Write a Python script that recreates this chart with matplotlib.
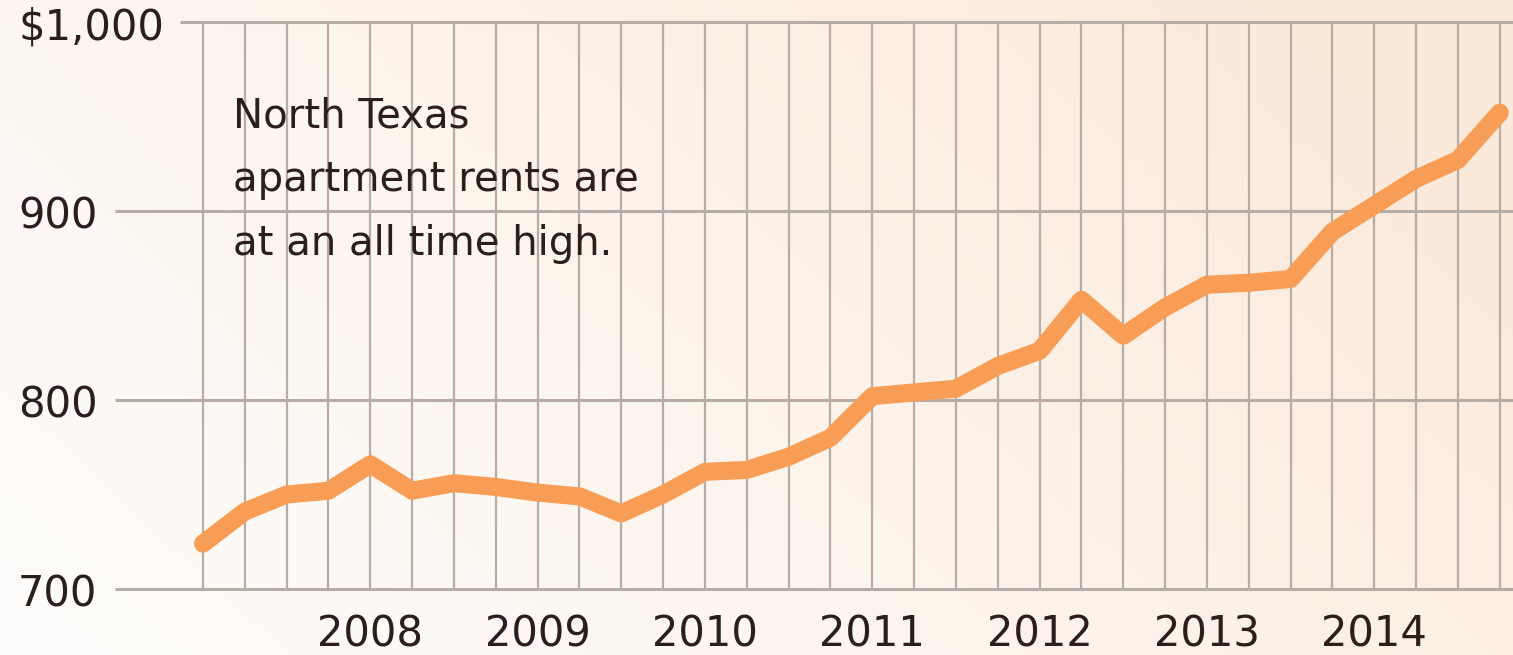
import numpy as np
import matplotlib.pyplot as plt
from matplotlib.colors import LinearSegmentedColormap

# quarterly average rent, 2007 Q1 .. 2014 Q4
rent = [724, 741, 750, 752, 766, 752, 756, 754,
        751, 749, 740, 750, 762, 763, 770, 780,
        802, 804, 806, 818, 826, 853, 834, 849,
        861, 862, 864, 889, 903, 917, 927, 952]
year_labels = ["2008", "2009", "2010", "2011", "2012", "2013", "2014"]
year_pos = [4, 8, 12, 16, 20, 24, 28]
y_ticks = [700, 800, 900, 1000]
y_labels = ["700", "800", "900", "$1,000"]
note_lines = ["North Texas", "apartment rents are", "at an all time high."]

text_col = "#2b1f1b"
grid_col = "#b5ada6"
line_col = "#f89d55"
font = "DejaVu Sans"

x = np.arange(len(rent))
x0, x1 = -4.853, 31.317
y0, y1 = 665.1, 1011.6

fig = plt.figure(figsize=(15.13, 6.55), dpi=100)
ax = fig.add_axes([0, 0, 1, 1])
ax.set_xlim(x0, x1)
ax.set_ylim(y0, y1)
ax.axis("off")

# soft warm wash, lighter toward the lower left
gx, gy = np.meshgrid(np.linspace(0, 1, 300), np.linspace(0, 1, 130))
t = np.clip(0.75 * gx + 0.35 * gy, 0, 1) ** 1.2
cmap = LinearSegmentedColormap.from_list("wash", ["#fefcfa", "#fdf3ea", "#fbe9da"])
ax.imshow(t, cmap=cmap, origin="lower", aspect="auto", zorder=0,
          extent=(x0, x1, y0, y1))

# grid: quarterly verticals, $100 horizontals
ax.vlines(x, 700, 1000, color=grid_col, lw=1.6, zorder=1)
for v in y_ticks:
    start = -0.55 if v == 1000 else -2.1
    ax.hlines(v, start, x1, color=grid_col, lw=2.2, zorder=1)

ax.plot(x, rent, color=line_col, lw=13, solid_capstyle="round",
        solid_joinstyle="round", zorder=3)

# value labels sit a touch below their gridline
for v, lab in zip(y_ticks, y_labels):
    ax.text(-4.42, v - 3, lab, ha="left", va="center", fontsize=30,
            color=text_col, family=font)
for p, lab in zip(year_pos, year_labels):
    ax.text(p, 676, lab, ha="center", va="center", fontsize=30,
            color=text_col, family=font)

for i, line in enumerate(note_lines):
    ax.text(0.72, 944.4 - i * 33.9, line, ha="left", va="baseline",
            fontsize=29, color=text_col, family=font)

fig.savefig("out.png", dpi=100)
